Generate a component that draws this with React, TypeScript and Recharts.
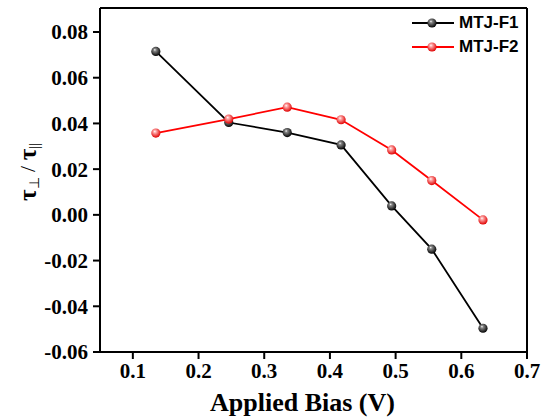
import { LineChart, Line, XAxis, YAxis, ReferenceLine } from "recharts";

const biasV = [0.135, 0.246, 0.335, 0.417, 0.494, 0.555, 0.633];
const mtjF1 = [0.0715, 0.0404, 0.036, 0.0306, 0.0039, -0.015, -0.0496];
const mtjF2 = [0.0358, 0.0419, 0.0471, 0.0416, 0.0284, 0.015, -0.0022];
const xTicks = [0.1, 0.2, 0.3, 0.4, 0.5, 0.6, 0.7];
const yTicks = [-0.06, -0.04, -0.02, 0, 0.02, 0.04, 0.06, 0.08];

const data = biasV.map((v, i) => ({ v, f1: mtjF1[i], f2: mtjF2[i] }));

const SERIES = [
  { key: "f1", name: "MTJ-F1", color: "#000000", hi: "#8a8a8a", lo: "#000000" },
  { key: "f2", name: "MTJ-F2", color: "#ff0000", hi: "#ffb0b0", lo: "#e00000" },
];

const serif = "'Liberation Serif', 'Times New Roman', serif";
const sans = "'Liberation Sans', Arial, sans-serif";

const css = `
body{margin:0}
.recharts-cartesian-axis-tick-value, .recharts-cartesian-axis-tick-value tspan {
  font-family: ${serif}; font-weight: bold; font-size: 21px; fill: #000;
}
`;

function Sphere({ cx, cy, r, id, hi, lo }: any) {
  return (
    <g>
      <defs>
        <radialGradient id={id} cx="45%" cy="40%" r="60%" fx="38%" fy="32%">
          <stop offset="0%" stopColor="#ffffff" />
          <stop offset="22%" stopColor={hi} />
          <stop offset="100%" stopColor={lo} />
        </radialGradient>
      </defs>
      <circle cx={cx} cy={cy} r={r} fill={`url(#${id})`} />
    </g>
  );
}

function makeDot(s: (typeof SERIES)[number]) {
  return (props: any) => {
    const { cx, cy, index } = props;
    if (cx == null || cy == null) return <g key={`${s.key}-${index}`} />;
    return (
      <g key={`${s.key}-${index}`}>
        <Sphere cx={cx} cy={cy} r={4.6} id={`grad-${s.key}-${index}`} hi={s.hi} lo={s.lo} />
      </g>
    );
  };
}

function YLabel(props: any) {
  const vb = props.viewBox || { x: 0, y: 8, width: 100, height: 344 };
  const cx = vb.x + 27;
  const cy = vb.y + vb.height / 2 - 8;
  return (
    <text
      x={cx}
      y={cy}
      transform={`rotate(-90, ${cx}, ${cy})`}
      textAnchor="middle"
      dominantBaseline="central"
      fontFamily={serif}
      fill="#000"
    >
      <tspan fontSize={25} fontWeight="bold">τ</tspan>
      <tspan fontSize={14} dy={7}>⊥</tspan>
      <tspan fontSize={22} dy={-7}>{" / "}</tspan>
      <tspan fontSize={25} fontWeight="bold">τ</tspan>
      <tspan fontSize={14} dy={7}>||</tspan>
    </text>
  );
}

function LegendBox() {
  return (
    <div
      style={{
        position: "absolute",
        left: 411,
        top: 11,
        fontFamily: sans,
        fontWeight: "bold",
        fontSize: 17,
      }}
    >
      {SERIES.map((s) => (
        <div key={s.key} style={{ display: "flex", alignItems: "center", height: 24 }}>
          <svg width={44} height={14} style={{ display: "block" }}>
            <line x1={1} y1={7} x2={43} y2={7} stroke={s.color} strokeWidth={1.8} />
            <Sphere cx={21} cy={7} r={4.6} id={`leg-${s.key}`} hi={s.hi} lo={s.lo} />
          </svg>
          <span style={{ marginLeft: 4, color: "#000" }}>{s.name}</span>
        </div>
      ))}
    </div>
  );
}

export default function App() {
  return (
    <div style={{ position: "relative", width: 543, height: 419, background: "#fff" }}>
      <style>{css}</style>
      <LineChart
        width={543}
        height={419}
        data={data}
        margin={{ top: 8, right: 16, left: 0, bottom: 0 }}
      >
        <XAxis
          dataKey="v"
          type="number"
          domain={[0.05, 0.7]}
          ticks={xTicks}
          allowDataOverflow
          height={67}
          tickSize={7}
          tickMargin={4}
          tickFormatter={(t: number) => t.toFixed(1)}
          axisLine={{ stroke: "#000", strokeWidth: 2 }}
          tickLine={{ stroke: "#000", strokeWidth: 2 }}
          tick={{ fill: "#000", fontSize: 21, fontWeight: "bold", fontFamily: serif }}
          label={{
            value: "Applied Bias (V)",
            position: "insideBottom",
            offset: 8,
            dx: -11,
            style: { fill: "#000", fontSize: 26, fontWeight: "bold", fontFamily: serif },
          }}
        />
        <YAxis
          type="number"
          domain={[-0.06, 0.0905]}
          ticks={yTicks}
          allowDataOverflow
          width={100}
          tickSize={7}
          tickMargin={5}
          tickFormatter={(t: number) => t.toFixed(2)}
          axisLine={{ stroke: "#000", strokeWidth: 2 }}
          tickLine={{ stroke: "#000", strokeWidth: 2 }}
          tick={{ fill: "#000", fontSize: 21, fontWeight: "bold", fontFamily: serif }}
          label={<YLabel />}
        />
        <ReferenceLine y={0.0905} stroke="#000" strokeWidth={2} />
        <ReferenceLine x={0.7} stroke="#000" strokeWidth={2} />
        {SERIES.map((s) => (
          <Line
            key={s.key}
            dataKey={s.key}
            name={s.name}
            type="linear"
            stroke={s.color}
            strokeWidth={1.8}
            dot={makeDot(s)}
            activeDot={false}
            isAnimationActive={false}
          />
        ))}
      </LineChart>
      <LegendBox />
    </div>
  );
}
